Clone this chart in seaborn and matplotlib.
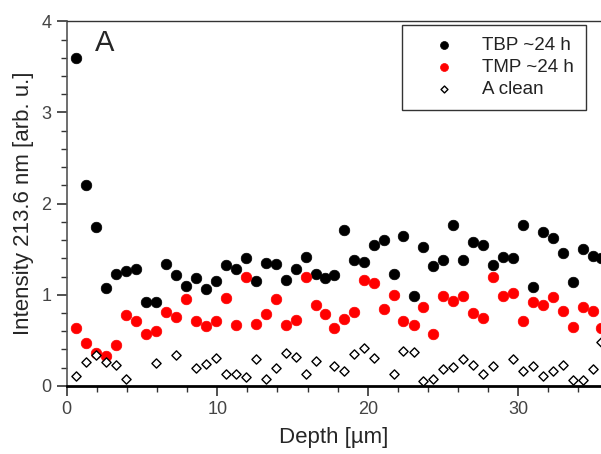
import matplotlib
matplotlib.use("Agg")
import matplotlib.pyplot as plt
import seaborn as sns
import numpy as np
import pandas as pd
from matplotlib.ticker import MultipleLocator

depth = [0.62, 1.28, 1.95, 2.61, 3.28, 3.94, 4.61, 5.27, 5.93, 6.60,
         7.26, 7.93, 8.59, 9.26, 9.92, 10.59, 11.25, 11.91, 12.58, 13.24,
         13.91, 14.57, 15.24, 15.90, 16.57, 17.16, 17.76, 18.42, 19.09, 19.75,
         20.42, 21.08, 21.75, 22.35, 23.08, 23.68, 24.34, 25.00, 25.67, 26.33,
         27.00, 27.66, 28.33, 28.99, 29.65, 30.32, 30.98, 31.65, 32.31, 32.98,
         33.64, 34.31, 34.97, 35.50]

tbp = [3.60, 2.20, 1.74, 1.07, 1.23, 1.26, 1.28, 0.92, 0.92, 1.34,
       1.22, 1.10, 1.18, 1.06, 1.15, 1.33, 1.28, 1.40, 1.15, 1.35,
       1.34, 1.16, 1.28, 1.41, 1.23, 1.18, 1.22, 1.71, 1.38, 1.36,
       1.55, 1.60, 1.23, 1.64, 0.99, 1.52, 1.32, 1.38, 1.77, 1.38,
       1.58, 1.55, 1.33, 1.41, 1.40, 1.77, 1.09, 1.69, 1.62, 1.46,
       1.14, 1.50, 1.43, 1.40]

tmp = [0.63, 0.47, 0.36, 0.33, 0.45, 0.78, 0.71, 0.57, 0.60, 0.81,
       0.76, 0.95, 0.71, 0.66, 0.71, 0.96, 0.67, 1.20, 0.68, 0.79,
       0.95, 0.67, 0.72, 1.20, 0.89, 0.79, 0.63, 0.73, 0.81, 1.16,
       1.13, 0.84, 1.00, 0.71, 0.67, 0.87, 0.57, 0.99, 0.93, 0.99,
       0.80, 0.75, 1.20, 0.99, 1.02, 0.71, 0.92, 0.89, 0.98, 0.82,
       0.65, 0.87, 0.82, 0.64]

nan = np.nan
clean = [0.11, 0.26, 0.34, 0.26, 0.23, 0.08, nan, nan, 0.25, nan,
         0.34, nan, 0.20, 0.24, 0.31, 0.13, 0.13, 0.10, 0.30, 0.08,
         0.20, 0.36, 0.32, 0.13, 0.27, nan, 0.22, 0.16, 0.35, 0.42,
         0.31, nan, 0.13, 0.38, 0.37, 0.05, 0.08, 0.18, 0.21, 0.30,
         0.23, 0.13, 0.22, nan, 0.30, 0.16, 0.22, 0.11, 0.16, 0.23,
         0.07, 0.07, 0.19, 0.48]

labels = ["TBP ~24 h", "TMP ~24 h", "A clean"]
x_ticks = [0, 10, 20, 30]
y_ticks = [0, 1, 2, 3, 4]

sns.set_style("ticks")
plt.rcParams["font.family"] = ["Liberation Sans", "DejaVu Sans"]

df = pd.DataFrame({"depth": depth, "tbp": tbp, "tmp": tmp, "clean": clean})

fig = plt.figure(figsize=(6.01, 4.54), dpi=100)
ax = fig.add_axes([0.111, 0.150, 0.889, 0.803])

sns.scatterplot(data=df, x="depth", y="tbp", ax=ax, color="black", marker="o",
                s=58, edgecolor="black", linewidth=0.5, label=labels[0], zorder=3)
sns.scatterplot(data=df, x="depth", y="tmp", ax=ax, color="#ff0000", marker="o",
                s=58, edgecolor="#ff0000", linewidth=0.5, label=labels[1], zorder=3)
sns.scatterplot(data=df.dropna(subset=["clean"]), x="depth", y="clean", ax=ax,
                facecolor="white", marker="D", s=22, edgecolor="black",
                linewidth=1.0, label=labels[2], zorder=4)

ax.set_xlim(0, 35.5)
ax.set_ylim(0, 4)
ax.set_xticks(x_ticks)
ax.set_yticks(y_ticks)
ax.xaxis.set_minor_locator(MultipleLocator(2))
ax.yaxis.set_minor_locator(MultipleLocator(0.2))

ax.tick_params(axis="both", which="major", direction="out", length=7, width=1.2,
               labelsize=13, labelcolor="#444444", color="#333333", pad=4)
ax.tick_params(axis="both", which="minor", direction="out", length=4, width=1.0,
               color="#333333")

ax.spines["right"].set_visible(False)
ax.spines["top"].set_linewidth(1.0)
ax.spines["top"].set_color("#333333")
ax.spines["left"].set_linewidth(1.2)
ax.spines["left"].set_color("#555555")
ax.spines["bottom"].set_linewidth(2.0)
ax.spines["bottom"].set_color("black")

ax.set_xlabel("Depth [µm]", fontsize=16, labelpad=6)
ax.set_ylabel("Intensity 213.6 nm [arb. u.]", fontsize=16, labelpad=5)

ax.text(0.053, 0.978, "A", transform=ax.transAxes, fontsize=21, va="top", ha="left")

leg = ax.legend(loc="upper right", bbox_to_anchor=(0.972, 0.99), borderaxespad=0,
                fontsize=13.5, frameon=True, fancybox=False, markerscale=0.75,
                handletextpad=0.4, borderpad=0.65, labelspacing=0.25,
                handlelength=3.2)
leg.get_frame().set_edgecolor("black")
leg.get_frame().set_linewidth(1.0)
for t in leg.get_texts():
    t.set_color("#222222")

fig.savefig("out.png", dpi=100)
